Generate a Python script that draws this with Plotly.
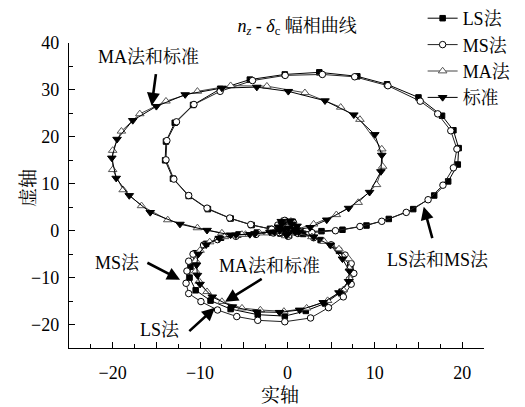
import plotly.graph_objects as go

# ---------------- data ----------------
# origin cluster (each curve winds into the origin)
LS_core_x = [0.9, 0.6, -0.4, -1.0, -0.8, 0.2, 0.8, 0.5, -0.4, -0.7, -0.3, 0.3, 0.2, -0.1]
LS_core_y = [0.6, 1.9, 2.1, 0.9, -0.6, -1.0, 0.1, 1.4, 1.5, 0.4, -0.3, 0.2, 0.9, 0.5]
# upper loop
LS_up_x = [1.5, 3.9, 6.3, 9.05, 11.6, 14.4, 16.8, 18.4, 19.5, 19.6, 19.0, 17.7, 15.0, 11.4, 8.0, 3.65,
           -0.3, -4.3, -7.7, -10.8, -12.9, -13.9, -14.0, -13.1, -11.3, -9.1, -6.5, -4.1, -2.0]
LS_up_y = [-0.3, -0.1, 0.2, 1.1, 2.5, 4.6, 7.5, 10.5, 14.1, 17.6, 21.4, 24.5, 28.4, 31.2, 32.9, 33.75,
           33.3, 32.2, 30.2, 26.8, 23.0, 19.0, 15.0, 11.1, 7.4, 4.6, 2.6, 1.2, 0.4]
# lower loop
LS_lo_x = [-1.5, -3.5, -5.6, -7.6, -9.3, -10.5, -11.1, -11.2, -10.5, -8.8, -6.5, -3.4, -0.3,
           2.1, 4.3, 6.2, 7.1, 7.2, 5.9, 3.8, 1.8]
LS_lo_y = [-0.2, -0.4, -0.8, -1.5, -2.8, -4.8, -7.7, -10.0, -12.7, -14.9, -16.7, -17.9, -18.2,
           -17.1, -15.5, -13.0, -10.5, -7.6, -4.3, -2.0, -0.7]

MS_core_x = [1.0, 0.7, -0.3, -1.1, -0.9, 0.1, 0.9, 0.6, -0.5, -0.8, -0.2, 0.4, 0.1]
MS_core_y = [0.3, 1.7, 2.2, 1.2, -0.4, -1.2, -0.3, 1.1, 1.7, 0.6, -0.6, 0.0, 0.7]
MS_up_x = [2.8, 5.5, 8.3, 10.8, 13.6, 16.1, 17.8, 19.0, 19.4, 18.7, 17.2, 15.2, 11.5, 7.7, 4.0,
           -0.26, -4.0, -7.7, -10.7, -12.7, -13.8, -13.9, -13.0, -11.3, -9.2, -6.6, -4.2, -1.8]
MS_up_y = [-0.4, 0.0, 0.9, 2.0, 3.9, 6.6, 9.7, 13.4, 17.4, 21.3, 24.9, 27.6, 30.9, 32.8, 33.3,
           33.1, 32.0, 29.7, 26.9, 23.2, 19.2, 15.1, 11.0, 7.5, 4.8, 2.7, 1.3, 0.3]
MS_lo_x = [-1.6, -3.6, -5.9, -8.0, -9.6, -10.8, -11.3, -11.5, -11.6, -11.3, -9.9, -8.0, -5.8, -3.4, -0.3,
           2.65, 4.7, 6.4, 7.3, 7.6, 7.3, 6.6, 5.0, 3.0, 1.2]
MS_lo_y = [-0.5, -0.8, -1.2, -1.9, -3.05, -5.0, -6.5, -8.6, -11.2, -13.4, -15.1, -16.9, -18.3, -19.1, -19.4,
           -18.6, -16.4, -14.1, -11.4, -9.1, -7.0, -5.2, -3.0, -1.5, -0.6]

MA_core_x = [-0.9, -0.6, 0.4, 1.0, 0.8, -0.2, -0.8, -0.5, 0.4, 0.7, 0.2, -0.3, 0.0]
MA_core_y = [0.4, 1.8, 2.0, 0.8, -0.5, -1.1, -0.2, 1.2, 1.6, 0.5, -0.4, 0.1, 0.8]
MA_up_x = [-2.2, -4.8, -7.5, -10.3, -13.7, -16.7, -18.8, -20.0, -20.0, -19.0, -16.9, -13.9, -10.3, -6.5,
           -2.35, 2.0, 6.1, 8.3, 10.8, 10.9, 10.2, 8.1, 5.6, 3.0, 1.2]
MA_up_y = [-0.5, -0.8, -0.5, 0.6, 2.3, 5.3, 8.7, 13.0, 17.1, 21.2, 24.9, 27.6, 29.7, 30.9,
           30.8, 29.4, 26.3, 23.7, 17.4, 13.7, 9.8, 6.0, 3.4, 1.4, 0.4]
MA_lo_x = [-1.2, -3.2, -5.2, -7.2, -8.9, -10.0, -10.5, -10.5, -10.1, -9.2, -7.5, -5.2, -3.1, -0.4,
           2.2, 4.6, 6.4, 7.1, 7.1, 7.0, 5.9, 4.2, 2.8, 1.2]
MA_lo_y = [-0.2, -0.5, -0.8, -1.3, -2.4, -4.2, -6.4, -8.6, -10.8, -13.0, -15.1, -16.5, -16.9, -17.2,
           -16.5, -14.9, -12.6, -10.1, -8.0, -6.0, -3.9, -2.3, -1.3, -0.4]

ST_core_x = [-1.0, -0.7, 0.3, 1.1, 0.9, -0.1, -0.9, -0.6, 0.5, 0.8, 0.1, -0.4, 0.1]
ST_core_y = [0.8, 2.0, 2.1, 1.0, -0.3, -1.0, 0.0, 1.4, 1.4, 0.3, -0.5, 0.3, 0.6]
ST_up_x = [-2.0, -4.3, -6.5, -9.2, -12.3, -15.7, -18.1, -19.6, -20.1, -19.5, -17.7, -15.0, -11.7, -7.5,
           -3.5, 0.1, 4.3, 7.6, 10.0, 10.8, 10.7, 9.4, 7.0, 4.5, 2.6, 1.0]
ST_up_y = [-0.3, -0.8, -0.9, 0.1, 1.4, 3.9, 7.5, 11.2, 15.5, 19.5, 23.5, 26.5, 29.0, 30.4,
           30.6, 29.7, 27.7, 24.7, 20.5, 16.1, 12.6, 8.2, 4.8, 2.3, 0.7, 0.2]
ST_lo_x = [-1.5, -3.7, -5.9, -7.8, -9.3, -10.2, -10.4, -10.3, -10.0, -8.6, -6.3, -3.5, -0.9,
           1.4, 4.1, 5.9, 7.0, 7.1, 6.3, 4.9, 3.0, 1.3]
ST_lo_y = [-0.3, -0.6, -0.9, -1.6, -3.0, -5.0, -7.3, -9.5, -11.4, -14.1, -16.2, -17.3, -17.4,
           -16.9, -15.3, -13.2, -10.8, -8.6, -6.0, -3.05, -1.3, -0.3]

SERIES_NAMES = ["LS法", "MS法", "MA法", "标准"]

X_TICKS = [-20, -15, -10, -5, 0, 5, 10, 15, 20]
X_TICK_TEXT = ["\u221220", "", "\u221210", "", "0", "", "10", "", "20"]
Y_TICKS = [-20, -10, 0, 10, 20, 30, 40]
Y_TICK_TEXT = ["\u221220", "\u221210", "0", "10", "20", "30", "40"]

# ---------------- figure ----------------
FONT = "Liberation Serif, Times New Roman, Noto Serif CJK SC, Noto Sans CJK SC, serif"

def path(core_x, core_y, up_x, up_y, lo_x, lo_y):
    return core_x + up_x + lo_x, core_y + up_y + lo_y

styles = [
    dict(symbol="square", size=5.5, color="black", line=dict(color="black", width=1)),
    dict(symbol="circle", size=6.5, color="white", line=dict(color="black", width=1)),
    dict(symbol="triangle-up", size=7.5, color="white", line=dict(color="#555555", width=1)),
    dict(symbol="triangle-down", size=7.5, color="black", line=dict(color="black", width=1)),
]
line_colors = ["black", "#222222", "#444444", "black"]

data = [
    path(LS_core_x, LS_core_y, LS_up_x, LS_up_y, LS_lo_x, LS_lo_y),
    path(MS_core_x, MS_core_y, MS_up_x, MS_up_y, MS_lo_x, MS_lo_y),
    path(MA_core_x, MA_core_y, MA_up_x, MA_up_y, MA_lo_x, MA_lo_y),
    path(ST_core_x, ST_core_y, ST_up_x, ST_up_y, ST_lo_x, ST_lo_y),
]

fig = go.Figure()
for (xs, ys), name, st, lc in zip(data, SERIES_NAMES, styles, line_colors):
    fig.add_trace(go.Scatter(
        x=xs, y=ys, name=name, mode="lines+markers",
        line=dict(color=lc, width=1),
        marker=st,
    ))

arrow_style = dict(showarrow=True, arrowhead=2, arrowsize=1.0, arrowwidth=2.6,
                   arrowcolor="black", text="", xref="x", yref="y", axref="x", ayref="y")
arrows = [
    (-15.54, 26.65, -15.03, 33.7),
    (15.6, 5.1, 16.63, -1.9),
    (-12.29, -10.45, -16.2, -6.67),
    (-7.14, -15.14, -2.77, -10.09),
    (-8.29, -16.4, -11.4, -21.7),
]
for hx, hy, tx, ty in arrows:
    fig.add_annotation(x=hx, y=hy, ax=tx, ay=ty, **arrow_style)

labels = [
    ("MA法和标准", -15.9, 37.1),
    ("LS法和MS法", 17.2, -6.2),
    ("MS法", -19.5, -6.8),
    ("MA法和标准", -2.1, -7.5),
    ("LS法", -14.6, -21.1),
]
for t, lx, ly in labels:
    fig.add_annotation(x=lx, y=ly, text=t, showarrow=False, xref="x", yref="y",
                       font=dict(family=FONT, size=18, color="black"))

# axis titles
fig.add_annotation(x=0.508, y=-0.198, xref="paper", yref="paper", text="实轴", showarrow=False,
                   font=dict(family=FONT, size=19, color="black"))
fig.add_annotation(x=-0.128, y=0.526, xref="paper", yref="paper", text="虚轴", showarrow=False,
                   textangle=-90, font=dict(family=FONT, size=19, color="black"))

fig.update_layout(
    width=525, height=407,
    margin=dict(l=69, r=41, t=43, b=59, autoexpand=False),
    paper_bgcolor="white", plot_bgcolor="white",
    font=dict(family=FONT, size=18, color="black"),
    title=dict(text="<i>n</i><sub><i>z</i></sub> - <i>δ</i><sub>c</sub> 幅相曲线",
               x=0.566, xanchor="center", y=0.938, yanchor="middle", yref="container",
               font=dict(family=FONT, size=18, color="black")),
    showlegend=True,
    legend=dict(x=0.805, y=1.008, xref="container", yref="container",
                xanchor="left", yanchor="top", bgcolor="rgba(0,0,0,0)",
                font=dict(family=FONT, size=18, color="black"), tracegroupgap=0),
    xaxis=dict(range=[-25, 22.5], showgrid=False, zeroline=False, showline=True,
               linecolor="black", linewidth=1.3, ticks="inside", ticklen=6, tickwidth=1.2,
               tickcolor="black", tickvals=X_TICKS, ticktext=X_TICK_TEXT,
               minor=dict(dtick=2.5, tick0=0, ticklen=3.5, tickwidth=1.1, tickcolor="black", ticks="inside"),
               tickfont=dict(family=FONT, size=18), ticklabelstandoff=8),
    yaxis=dict(range=[-25, 40], showgrid=False, zeroline=False, showline=True,
               linecolor="black", linewidth=1.3, ticks="inside", ticklen=6, tickwidth=1.2,
               tickcolor="black", tickvals=Y_TICKS, ticktext=Y_TICK_TEXT,
               minor=dict(dtick=5, tick0=0, ticklen=3.5, tickwidth=1.1, tickcolor="black", ticks="inside"),
               tickfont=dict(family=FONT, size=18), ticklabelstandoff=5),
)

fig.write_html("out.html")
